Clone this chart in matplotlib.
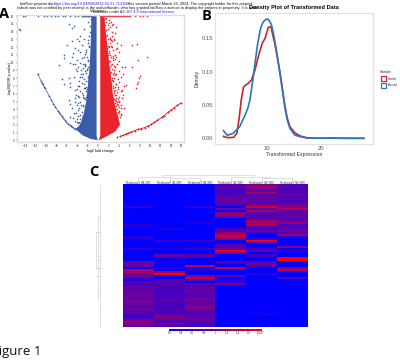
import numpy as np
import matplotlib
matplotlib.use('Agg')
import matplotlib.pyplot as plt
from matplotlib.colors import LinearSegmentedColormap

# volcano, dense parts as outlines, sparse parts as points
blue_fill_x=[-0.3,-0.3,-1.3,-1.4,-1.6,-1.9,-2.3,-2.9,-3.6,-4.4,-3.0,-1.5,-0.1]
blue_fill_y=[0.6,16.0,16.0,13.0,10.0,7.5,5.0,3.0,1.9,1.45,0.65,0.2,0.0]
red_fill_x=[0.4,0.4,1.2,1.45,1.8,2.1,2.5,2.8,3.2,3.9,4.2,3.3,1.9,0.1]
red_fill_y=[0.6,16.0,16.0,14.0,12.0,10.0,8.0,6.0,4.6,2.9,2.0,1.15,0.6,0.0]
blue_arc_x=[-11.6,-11.0,-10.8,-10.6,-10.4,-10.2,-9.4,-9.0,-8.6,-8.2,-7.8,-7.5,-7.3,-7.0,-6.7,-6.4,-6.1,-5.8,-5.5,-5.2,-5.0,-4.7,-4.4]
blue_arc_y=[8.5,7.7,7.4,7.2,6.9,6.7,5.7,5.2,4.7,4.3,3.8,3.6,3.4,3.1,2.85,2.6,2.35,2.15,2.0,1.85,1.75,1.6,1.45]
blue_top_x=[-14.5,-14.0,-11.5,-10.4,-9.8,-9.1,-8.3,-7.8,-6.8,-6.3,-5.5,-4.4,-3.9,-3.2,-2.8,-2.4,-2.0,-1.7,-1.4]
blue_top_y=[16,16,16,16,16,16,16,16,16,16,16,16,16,16,16,16,16,16,16]
blue_x=[-15.2,-15.1,-5.7,-5.1,-4.6,-3.5,-2.8,-2.0,-1.6,-1.4,-4.1,-3.6,-5.1,-5.9,-2.7,-1.9,-3.1,-4.4,-3.8,-2.3,-6.5,-6.5,-3.1,-1.9,-5.1,-3.5,-4.4,-2.5,-7.6,-5.4,-4.9,-3.8,-3.0,-1.9,-4.1,-2.3,-3.1,-6.9,-6.5,-5.7,-5.5,-5.4,-3.6,-2.7,-1.9,-4.4,-3.5,-2.3,-5.7,-5.5,-4.4,-3.8,-2.8,-2.0,-5.1,-4.6,-3.8,-3.0,-2.2,-3.5,-4.1,-2.7,-1.9,-1.6,-5.4,-3.0,-2.2,-2.6,-3.3,-4.3,-4.8,-1.7,-2.5,-3.4,-4.0,-2.0,-2.9,-3.7,-1.8,-2.4,-3.2,-1.8,-2.1,-2.6,-4.7,-3.9,-1.7,-2.3,-2.9,
-1.6,-2.0,-2.4,-2.8,-1.8,-2.2,-2.6,-3.0,-1.9,-2.1,-2.5,-2.9,-3.3,-2.0,-2.3,-2.7,-3.1,-3.5,-2.2,-2.4,-2.8,-3.2,-3.6,-4.0,-2.4,-2.6,-3.0,-3.4,-3.8,-4.2,-2.6,-2.9,-3.3,-3.7,-4.1,-4.5,-3.1,-3.5,-3.9,-4.3,-3.2,-3.6,-4.0,-4.4,-4.8,-2.7,-3.1,-3.4,-3.8]
blue_y=[14.4,14.2,15.0,14.5,14.7,13.5,14.3,15.3,14.7,15.6,13.0,12.8,12.8,12.3,13.1,12.9,12.3,11.9,11.7,11.7,11.0,10.6,10.6,10.4,10.8,10.0,9.9,9.8,9.7,10.0,9.9,9.5,9.3,9.5,8.9,8.7,8.1,7.9,7.3,8.0,7.4,6.9,7.6,7.2,7.6,6.5,6.3,6.3,5.2,4.7,5.4,4.8,5.4,4.6,4.2,3.5,3.9,3.3,3.7,2.7,2.3,2.3,2.7,1.6,3.0,4.4,5.9,6.8,8.5,9.2,11.3,12.0,11.1,11.4,10.3,8.3,5.8,5.6,6.0,3.0,3.0,13.5,9.0,9.6,8.2,7.0,5.0,4.0,2.0,
13.9,12.6,11.4,10.8,12.1,10.7,9.7,9.9,10.2,9.2,8.9,8.6,9.0,8.0,7.7,7.9,7.4,8.2,6.6,6.9,6.7,6.1,7.0,6.6,5.6,5.3,5.6,5.0,5.7,5.9,4.3,4.5,4.6,4.2,4.6,4.9,3.6,3.3,3.2,3.5,2.5,2.4,2.7,2.5,2.9,2.9,2.1,2.0,2.2]
red_arc_x=[3.6,4.2,4.8,5.3,5.8,6.4,7.0,7.6,8.2,9.0,9.6,10.2,10.8,11.4,12.2,12.7,13.4,14.0,14.6,15.2,15.9]
red_arc_y=[0.4,0.5,0.65,0.8,0.95,1.1,1.25,1.4,1.5,1.65,1.85,2.05,2.3,2.6,2.95,3.2,3.6,3.9,4.2,4.5,4.8]
red_top_x=[7.1,8.1,8.7,9.4]
red_top_y=[16,16,16,16]
red_x=[1.3,1.6,2.0,2.4,2.9,3.4,1.4,1.9,2.3,2.7,3.3,1.3,1.7,2.2,2.6,3.0,3.6,4.3,1.5,1.9,2.5,2.9,3.4,4.0,1.4,1.8,2.4,2.8,3.3,4.1,6.5,7.5,1.6,2.1,2.6,3.1,3.7,4.5,1.7,2.0,2.5,3.0,3.5,4.0,5.2,9.4,7.6,1.8,2.2,2.7,3.2,3.8,4.4,6.6,1.9,2.4,2.9,3.4,4.1,4.9,8.0,7.8,7.6,7.4,7.3,5.4,2.4,2.9,3.3,3.8,4.3,2.5,3.0,3.5,4.0,4.7,4.5,4.3,5.0,2.8,3.2,3.7,4.1,3.0,3.5,4.0,3.9,4.4,3.2,2.6,3.1,2.3,2.8,3.3,3.6,2.7,2.2,1.5,2.0,3.0,2.6,3.5,4.8,4.6,3.9,2.1,1.4,
1.5,1.8,2.1,1.6,1.9,2.2,2.5,1.7,2.0,2.3,2.6,1.9,2.2,2.5,2.8,2.0,2.3,2.6,2.9,3.2,2.3,2.5,2.8,3.1,3.4,2.5,2.8,3.0,3.3,3.6,2.7,3.0,3.2,3.5,3.8,2.9,3.2,3.4,3.7,4.0,3.3,3.6,3.8,4.1,4.3,3.5,3.7,4.0,4.2,4.4]
red_y=[15.6,15.3,15.5,15.2,15.0,14.6,14.8,14.4,14.6,14.0,13.8,13.8,13.6,13.2,13.4,12.9,12.6,12.3,12.5,12.2,12.1,11.6,11.8,11.4,11.2,11.0,10.8,10.9,10.5,10.2,12.3,12.4,10.4,10.1,9.9,9.6,9.8,9.4,9.3,9.0,8.8,9.1,8.6,8.9,9.5,10.8,10.3,8.2,8.3,8.0,8.4,7.9,8.1,9.5,7.6,7.4,7.6,7.2,7.5,7.0,8.3,8.0,7.5,7.2,6.7,7.1,6.9,6.8,6.5,6.6,6.3,6.0,6.1,5.8,5.6,5.9,5.4,4.6,4.2,5.5,5.2,5.0,4.9,4.6,4.4,4.3,3.6,3.4,3.9,7.8,8.7,9.4,10.3,11.0,11.9,12.8,13.0,14.2,11.5,13.0,14.9,10.7,8.6,6.5,6.9,12.0,9.1,
15.8,14.9,15.1,13.4,13.0,12.6,12.9,11.9,11.3,11.0,12.0,10.4,10.2,9.7,10.6,9.0,8.7,9.2,8.5,9.4,7.8,7.3,7.7,8.0,7.3,6.5,7.0,6.4,6.9,6.2,5.8,5.3,5.9,5.5,5.3,4.9,4.8,5.1,4.7,5.1,4.1,4.0,4.5,3.8,4.2,3.3,3.1,3.5,3.0,3.3]
vol_xticks=[-14,-12,-10,-8,-6,-4,-2,0,2,4,6,8,10,12,14,16]
vol_yticks=[0,1,2,3,4,5,6,7,8,9,10,11,12,13,14,15,16]

# density curves
ctrl_x=[2,2.5,3,3.9,4.5,4.9,5.3,5.7,6.1,6.6,7.2,7.84,8.3,8.8,9.2,9.7,10.0,10.3,10.8,11.1,11.5,12.0,12.5,13.0,13.4,13.8,14.3,15.2,16.2,17.4,19,21,22.5,24,28]
ctrl_y=[0.003,0.0015,0.001,0.0015,0.008,0.03,0.058,0.0765,0.08,0.0825,0.0875,0.1025,0.118,0.1325,0.143,0.15,0.158,0.1665,0.1675,0.156,0.1425,0.12,0.0975,0.07,0.0475,0.031,0.0175,0.0085,0.0035,0.001,0.0003,0.0002,0.0008,0.0001,0.0]
inf_x=[2,2.7,3.8,5,6,6.5,6.9,7.4,7.84,8.3,8.8,9.1,9.4,9.8,10.2,10.6,10.9,11.3,11.7,12.1,12.5,13.0,13.4,13.8,14.3,15.2,16.2,17.4,20,28]
inf_y=[0.0115,0.0045,0.0075,0.0175,0.035,0.045,0.0575,0.085,0.1125,0.14,0.1625,0.17,0.175,0.178,0.179,0.175,0.17,0.155,0.1375,0.117,0.095,0.067,0.045,0.028,0.015,0.005,0.0025,0.0005,0.0002,0.0]

# heatmap columns, 71 rows each, row number -> value
rows=71
col1={11:.2,20:.15,21:.12,26:.2,27:.15,32:.2,38:.45,39:.5,40:.4,42:.75,43:.7,44:.4,45:.5,46:.3,47:.1,48:.4,49:.35,50:.4,51:.45,52:.4,53:.45,54:.5,55:.45,56:.4,57:.5,58:.55,59:.45,60:.4,61:.45,62:.5,63:.4,64:.3,65:.25,66:.35,67:.55,68:.6,69:.55,70:.4}
col2={22:.15,28:.25,32:.15,35:.45,38:.15,41:.2,43:.7,44:1.0,47:.4,48:.4,49:.35,50:.35,51:.3,52:.35,53:.3,54:.35,55:.3,56:.35,57:.4,58:.35,59:.3,60:.35,61:.3,62:.4,63:.3,64:.4,65:.55,66:.55,67:.4,68:.3,69:.5,70:.35}
col3={11:.2,19:.15,28:.25,32:.3,35:.4,40:.8,42:.2,45:.6,46:.85,47:.3,49:.45,50:.4,51:.45,52:.4,53:.45,54:.4,55:.35,56:.45,57:.55,58:.4,59:.45,60:.55,61:.6,62:.4,63:.35,64:.4,65:.35,66:.5,67:.45,68:.35,69:.3,70:.35}
col4={0:.35,1:.4,2:.4,3:.3,4:.3,5:.4,6:.4,7:.45,8:.45,9:.45,10:.4,12:.5,14:.6,15:.65,16:.45,22:.4,23:.4,24:.6,25:.75,26:.8,27:.6,29:.1,30:.4,31:.35,32:.5,33:1.0,34:.6,38:.4,41:.8,45:.45,47:.2,48:.2,49:.5}
col5={0:.5,1:.7,2:.5,3:.45,4:.65,5:.4,6:.45,7:.4,8:.45,9:.4,10:.45,11:.85,12:.35,13:.7,14:.4,15:.35,16:.4,17:.35,18:.7,19:.65,20:.75,21:.4,22:.3,23:.5,24:.2,25:.05,26:.05,27:.2,28:1.0,29:.4,31:.1,32:.3,33:.4,35:.3,38:.4,39:.5,40:.3,44:.2,64:.12}
col6={0:.35,1:.4,2:.3,3:.4,4:.35,5:.45,6:.35,7:.4,8:.35,9:.4,10:.45,11:.6,12:.75,13:.4,14:.45,15:.4,16:.45,17:.4,18:.45,19:.6,20:.3,21:.35,22:.4,23:.5,24:.35,25:.65,26:.2,31:.6,33:.2,36:1.0,37:1.0,41:.6,42:.8,46:.4}
heat_cols=[col1,col2,col3,col4,col5,col6]
cbar_labels=['0.2','0.4','0.6','0.8','1','1.2','1.4','1.6','2.047']
col_names=['Replicate1 (M-1W)','Replicate2 (M-2W)','Replicate3 (M-3W)','Replicate1 (W-1W)','Replicate2 (W-2W)','Replicate3 (W-3W)']

W,H=400,363
def box(x0,y0,x1,y1):
    return [x0/W,1-y1/H,(x1-x0)/W,(y1-y0)/H]

plt.rcParams['font.family']=['Liberation Sans','DejaVu Sans']
fig=plt.figure(figsize=(4.0,3.63),dpi=100)
BLUE='#3b5ca8'
RED='#e8242c'

# A
ax=fig.add_axes(box(17,15,184,141.5))
ax.fill(blue_fill_x,blue_fill_y,color=BLUE,lw=0)
ax.fill(red_fill_x,red_fill_y,color=RED,lw=0)
ax.scatter(blue_x,blue_y,s=1.4,c=BLUE,lw=0,clip_on=False)
ax.scatter(blue_arc_x,blue_arc_y,s=1.6,c=BLUE,lw=0)
ax.scatter(blue_top_x,blue_top_y,s=1.6,c=BLUE,lw=0,clip_on=False)
ax.scatter(red_x,red_y,s=1.4,c=RED,lw=0)
ax.scatter(red_arc_x,red_arc_y,s=1.8,c='#d8141c',lw=0)
ax.scatter(red_top_x,red_top_y,s=1.6,c=RED,lw=0,clip_on=False)
ax.plot(blue_arc_x,blue_arc_y,color=BLUE,lw=0.5)
ax.plot(red_arc_x[1:],red_arc_y[1:],color='#d8141c',lw=0.6)
ax.plot([-3.2,-1.0],[16,16],color=BLUE,lw=1)
ax.plot([0.4,6.2],[16,16],color=RED,lw=1)
ax.set_xlim(-15.6,16.5)
ax.set_ylim(-0.15,16.15)
ax.set_xticks(vol_xticks)
ax.set_yticks(vol_yticks)
ax.tick_params(labelsize=2.2,length=1,width=0.3,pad=1,colors='#333333')
for s in ax.spines.values():
    s.set_color('#dddddd')
    s.set_linewidth(1)
ax.set_xlabel('log2 fold change',fontsize=2.6,labelpad=0.5)
ax.set_ylabel('-log10(FDR p-value)',fontsize=2.6,labelpad=-0.5)

# B
ax=fig.add_axes(box(215,13,373,144))
ax.plot(ctrl_x,ctrl_y,color='#c9252d',lw=1.2,label='Control')
ax.plot(inf_x,inf_y,color='#2b78b4',lw=1.2,label='Infected')
ax.set_xlim(0.43,29.7)
ax.set_ylim(-0.0085,0.188)
ax.set_xticks([10,20])
ax.set_yticks([0,0.05,0.10,0.15])
ax.set_yticklabels(['0.00','0.05','0.10','0.15'])
ax.tick_params(labelsize=4.2,length=0,pad=1.5,labelcolor='#555555')
for s in ax.spines.values():
    s.set_color('#e2e2e2')
    s.set_linewidth(0.9)
ax.set_xlabel('Transformed Expression',fontsize=3.7,labelpad=0.5,color='#333333')
ax.set_ylabel('Density',fontsize=3.7,labelpad=1,color='#333333')

# C
cmap=LinearSegmentedColormap.from_list('bp',['#0000ff','#70009a','#ff0000'])
mat=np.zeros((rows,6))
for j,c in enumerate(heat_cols):
    for r,v in c.items():
        mat[r,j]=v
ax=fig.add_axes(box(123.3,184.3,307.7,326.7))
ax.imshow(mat,cmap=cmap,vmin=0,vmax=1,aspect='auto',interpolation='nearest')
ax.axis('off')
cax=fig.add_axes(box(169.3,329,261.7,331.2))
cax.imshow(np.linspace(0,1,256)[None,:],cmap=cmap,aspect='auto')
cax.axis('off')

# overlay in pixels for text and dendrograms
ov=fig.add_axes([0,0,1,1],zorder=5)
ov.set_xlim(0,W)
ov.set_ylim(H,0)
ov.axis('off')
ov.patch.set_alpha(0)
for i,lab in enumerate(cbar_labels):
    ov.text(169.5+i*11.4,333.5,lab,fontsize=2.2,ha='center',va='center',color='#333333')
for i,name in enumerate(col_names):
    ov.text(138.5+i*30.75,182.6,name,fontsize=2.1,ha='center',va='center',color='#333333')
GREY='#c8c8c8'
top_dendro=[([138,138,170,170],[181,176.5,176.5,178]),
            ([170,170,200,200],[181,177.5,177.5,181]),
            ([162,162,254,254],[176.5,174.5,174.5,176]),
            ([231,231,270,270],[181,176.5,176.5,178]),
            ([262,262,292,292],[181,178,178,181])]
for xs,ys in top_dendro:
    ov.plot(xs,ys,color=GREY,lw=0.4)
left_dendro=[([100,100],[185,327]),([96,96],[232,268]),([96,100],[232,232]),([96,100],[268,268]),
             ([98,98],[216,300]),([98,100],[216,216]),([97,100],[260,260]),([96,100],[276,276]),
             ([98,100],[290,290]),([99,100],[306,306]),([98,100],[256,256]),([97,100],[268,268]),
             ([99,100],[284,284]),([99,100],[246,246])]
for xs,ys in left_dendro:
    ov.plot(xs,ys,color=GREY,lw=0.4)
# legend of B
ov.text(379.5,72,'Sample',fontsize=2.5,va='center',color='#222222')
ov.add_patch(plt.Rectangle((380.5,75.5),5,5,fc='none',ec='#c9252d',lw=0.9))
ov.add_patch(plt.Rectangle((380.5,82.5),5,5,fc='none',ec='#2b78b4',lw=0.9))
ov.text(388,78.5,'Control',fontsize=2,va='center',color='#222222')
ov.text(388,85.5,'Infected',fontsize=2,va='center',color='#222222')
# preprint header
ov.text(20,4.3,'bioRxiv preprint doi: ',fontsize=2.8,va='center',color='#111111')
ov.text(53.5,4.3,'https://doi.org/10.64898/2024.03.21.713109',fontsize=2.8,va='center',color='#2222dd')
ov.text(125.5,4.3,'; this version posted March 23, 2024. The copyright holder for this preprint',fontsize=2.8,va='center',color='#111111')
ov.text(17,8.2,'(which was not certified by peer review) is the author/funder, who has granted bioRxiv a license to display the preprint in perpetuity. It is made',fontsize=2.8,va='center',color='#111111')
ov.text(93,11.8,'available under a',fontsize=2.8,va='center',color='#111111')
ov.text(120.5,11.8,'CC-BY 4.0 International license.',fontsize=2.8,va='center',color='#2222dd')
ov.text(97,10.5,'Volcano',fontsize=2.8,ha='center',va='center',color='#111111')
ov.text(294,8,'Density Plot of Transformed Data',fontsize=4.1,fontweight='bold',ha='center',va='center',color='black')
# panel letters and caption
ov.text(-1,14,'A',fontsize=10.5,fontweight='bold',va='center',family='Open Sans')
ov.text(201.5,15.5,'B',fontsize=10.5,fontweight='bold',va='center',family='Open Sans')
ov.text(89.5,172.5,'C',fontsize=10.5,fontweight='bold',va='center',family='Open Sans')
ov.text(-8.5,352,'Figure 1',fontsize=9.5,va='center',family='Open Sans',color='#111111')

fig.savefig('out.png',dpi=100)
